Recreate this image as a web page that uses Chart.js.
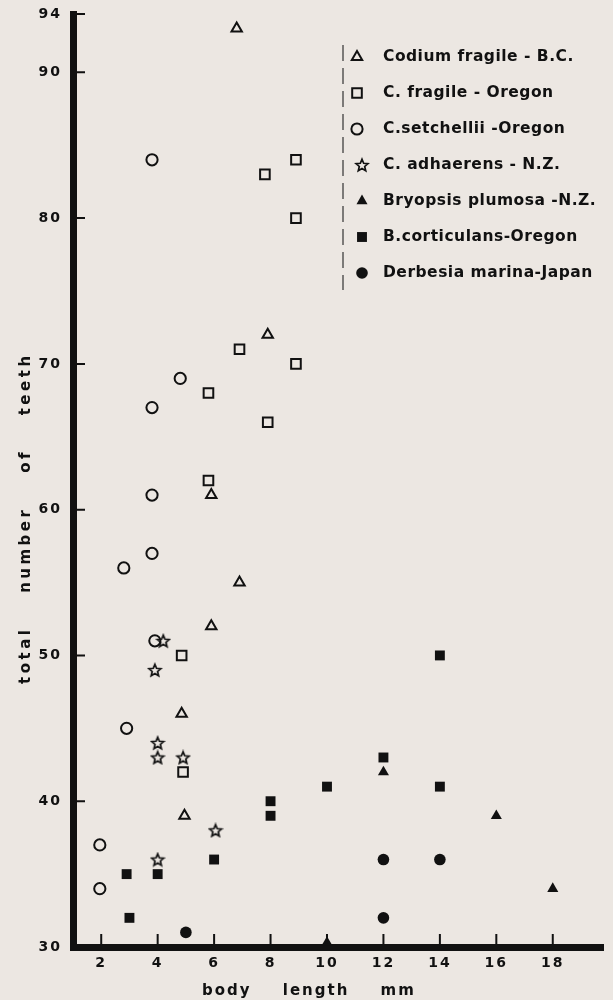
<!doctype html>
<html>
<head>
<meta charset="utf-8">
<style>
  body { margin: 0; background: #ece7e2; }
  canvas { display: block; }
</style>
</head>
<body>
<canvas id="c" width="613" height="1000" style="width:613px;height:1000px"></canvas>
<script src="https://cdn.jsdelivr.net/npm/chart.js"></script>
<script>
const FONT = '"DejaVu Sans", sans-serif';
const INK = '#111';

const xTicks = [2, 4, 6, 8, 10, 12, 14, 16, 18];
const yTicks = [30, 40, 50, 60, 70, 80, 90, 94];

const seriesNames = [
  'Codium fragile - B.C.',
  'C. fragile - Oregon',
  'C.setchellii -Oregon',
  'C. adhaerens - N.Z.',
  'Bryopsis plumosa -N.Z.',
  'B.corticulans-Oregon',
  'Derbesia marina-Japan'
];

// [body length mm, total number of teeth]
const codiumBC = [[6.8, 93], [7.9, 72], [5.9, 61], [6.9, 55], [5.9, 52], [4.85, 46], [4.95, 39]];
const fragileOregon = [[8.9, 84], [7.8, 83], [8.9, 80], [6.9, 71], [8.9, 70], [5.8, 68], [7.9, 66], [5.8, 62], [4.85, 50], [4.9, 42]];
const setchellii = [[3.8, 84], [4.8, 69], [3.8, 67], [3.8, 61], [3.8, 57], [2.8, 56], [3.9, 51], [2.9, 45], [1.95, 37], [1.95, 34]];
const adhaerens = [[4.2, 51], [3.9, 49], [4, 44], [4, 43], [4.9, 43], [6.05, 38], [4, 36]];
const bryopsis = [[10, 30.3], [12, 42], [16, 39], [18, 34]];
const corticulans = [[3, 32], [2.9, 35], [4, 35], [6, 36], [8, 39], [8, 40], [10, 41], [12, 43], [14, 41], [14, 50]];
const derbesia = [[5, 31], [12, 36], [14, 36], [12, 32]];

function pts(a) {
  return a.map(([x, y]) => ({ x, y }));
}

// open five point star for C. adhaerens
function makeStar(size, lw) {
  const c = document.createElement('canvas');
  c.width = c.height = size;
  const g = c.getContext('2d');
  const cx = size / 2, cy = size / 2 + 0.6, R = size / 2 - lw, r = R * 0.45;
  g.beginPath();
  for (let i = 0; i < 10; i++) {
    const a = -Math.PI / 2 + i * Math.PI / 5;
    const rr = i % 2 ? r : R;
    g.lineTo(cx + rr * Math.cos(a), cy + rr * Math.sin(a));
  }
  g.closePath();
  g.lineWidth = lw;
  g.strokeStyle = INK;
  g.stroke();
  return c;
}
const star = makeStar(16, 1.7);

function ds(i, data, style, radius, filled) {
  return {
    label: seriesNames[i],
    data: pts(data),
    showLine: false,
    pointStyle: style,
    pointRadius: radius,
    pointBorderWidth: filled ? 0 : 2,
    pointBorderColor: INK,
    pointBackgroundColor: filled ? INK : 'rgba(0,0,0,0)'
  };
}

const datasets = [
  ds(0, codiumBC, 'triangle', 6, false),
  ds(1, fragileOregon, 'rect', 6.8, false),
  ds(2, setchellii, 'circle', 5.6, false),
  ds(3, adhaerens, star, 8, false),
  ds(4, bryopsis, 'triangle', 6.4, true),
  ds(5, corticulans, 'rect', 7, true),
  ds(6, derbesia, 'circle', 5.8, true)
];

const decor = {
  id: 'decor',
  beforeDraw(chart) {
    chart.ctx.letterSpacing = '2px';
  },
  afterDraw(chart) {
    const { ctx, chartArea: a, scales: { x, y } } = chart;
    ctx.save();
    ctx.strokeStyle = INK;
    ctx.lineWidth = 2;
    ctx.beginPath();
    xTicks.forEach(v => {
      const px = x.getPixelForValue(v);
      ctx.moveTo(px, a.bottom - 3);
      ctx.lineTo(px, a.bottom - 13);
    });
    yTicks.forEach(v => {
      if (v === 30) return;
      const py = y.getPixelForValue(v);
      ctx.moveTo(a.left + 3, py);
      ctx.lineTo(a.left + 12, py);
    });
    ctx.stroke();

    // axis titles
    ctx.fillStyle = INK;
    ctx.font = 'bold 15px ' + FONT;
    ctx.textBaseline = 'middle';
    ctx.textAlign = 'left';
    ctx.letterSpacing = '2px';
    ctx.wordSpacing = '24px';
    ctx.fillText('body length mm', 202, 991);

    ctx.save();
    ctx.translate(26, 684);
    ctx.rotate(-Math.PI / 2);
    ctx.letterSpacing = '3.5px';
    ctx.wordSpacing = '25px';
    ctx.fillText('total number of teeth', 0, 0);
    ctx.restore();

    // legend
    ctx.save();
    ctx.lineWidth = 1.2;
    ctx.strokeStyle = '#333';
    ctx.setLineDash([16, 7]);
    ctx.beginPath();
    ctx.moveTo(343, 45);
    ctx.lineTo(343, 290);
    ctx.stroke();
    ctx.restore();

    ctx.letterSpacing = '0.5px';
    ctx.wordSpacing = '0px';
    ctx.font = 'bold 15.5px ' + FONT;
    datasets.forEach((d, i) => {
      const ly = 57 + i * 36;
      const lx = i < 3 ? 357 : 362;
      ctx.save();
      ctx.strokeStyle = INK;
      ctx.fillStyle = d.pointBackgroundColor;
      Chart.helpers.drawPoint(ctx, {
        pointStyle: d.pointStyle,
        radius: d.pointRadius,
        borderWidth: d.pointBorderWidth,
        rotation: 0
      }, lx, ly);
      ctx.restore();
      ctx.fillStyle = INK;
      ctx.fillText(d.label, 383, ly);
    });
    ctx.restore();
  }
};

new Chart(document.getElementById('c'), {
  type: 'scatter',
  data: { datasets },
  options: {
    responsive: false,
    animation: false,
    events: [],
    layout: { padding: { top: 14, right: 0, bottom: 0, left: 0 } },
    plugins: { legend: { display: false }, tooltip: { enabled: false } },
    scales: {
      x: {
        type: 'linear',
        min: 1,
        max: 19.78,
        afterBuildTicks: s => { s.ticks = xTicks.map(v => ({ value: v })); },
        afterFit: s => { s.height = 53; s.paddingLeft = 0; s.paddingRight = 0; },
        grid: { display: false, drawTicks: false },
        border: { display: true, color: INK, width: 7 },
        ticks: { color: INK, padding: 8, maxRotation: 0, font: { family: FONT, size: 14, weight: 'bold' } }
      },
      y: {
        type: 'linear',
        min: 30,
        max: 94,
        afterBuildTicks: s => { s.ticks = yTicks.map(v => ({ value: v })); },
        afterFit: s => { s.width = 73; s.paddingTop = 0; s.paddingBottom = 0; },
        grid: { display: false, drawTicks: false },
        border: { display: true, color: INK, width: 7 },
        ticks: { color: INK, padding: 11, font: { family: FONT, size: 14, weight: 'bold' } }
      }
    }
  },
  plugins: [decor]
});
</script>
</body>
</html>
